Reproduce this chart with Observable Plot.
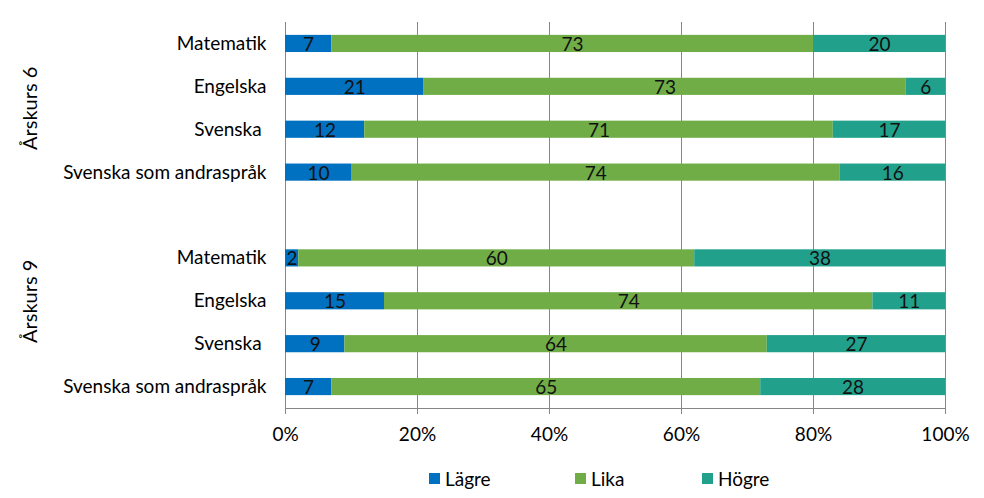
<!DOCTYPE html>
<html>
<head>
<meta charset="utf-8">
<script src="https://cdn.jsdelivr.net/npm/d3@7"></script>
<script src="https://cdn.jsdelivr.net/npm/@observablehq/plot@0.6"></script>
<style>
  html, body { margin: 0; padding: 0; background: #fff; }
  #chart { width: 984px; height: 498px; font-family: Lato, "Open Sans", sans-serif; }
  .legend { display: flex; align-items: center; padding-left: 429px; height: 32px; font-size: 19px; color: #000; }
  .legend .item { display: flex; align-items: center; }
  .legend .sw { width: 11px; height: 11px; margin-right: 5px; }
</style>
</head>
<body>
<div id="chart"></div>
<script>
const grades = ["Årskurs 6", "Årskurs 9"];
const categories = ["Matematik", "Engelska", "Svenska\u00a0", "Svenska som andraspråk"];
const seriesNames = ["Lägre", "Lika", "Högre"];
const seriesColors = ["#0070C0", "#70AD47", "#21A08B"];
const lagre6 = [7, 21, 12, 10];
const lika6  = [73, 73, 71, 74];
const hogre6 = [20, 6, 17, 16];
const lagre9 = [2, 15, 9, 7];
const lika9  = [60, 74, 64, 65];
const hogre9 = [38, 11, 27, 28];
const xTicks = [0, 20, 40, 60, 80, 100];

const gradeSeries = [[lagre6, lika6, hogre6], [lagre9, lika9, hogre9]];
const rowKey = (g, c) => g + "|" + c;
const domain = [];
grades.forEach((g, gi) => {
  categories.forEach(c => domain.push(rowKey(g, c)));
  if (gi < grades.length - 1) domain.push("gap");
});

const data = [];
grades.forEach((g, gi) => {
  categories.forEach((c, ci) => {
    seriesNames.forEach((s, si) => {
      data.push({row: rowKey(g, c), series: s, value: gradeSeries[gi][si][ci]});
    });
  });
});

const FONT = "Lato, 'Open Sans', sans-serif";
const plot = Plot.plot({
  width: 984,
  height: 462,
  marginTop: 22,
  marginBottom: 54,
  marginLeft: 285,
  marginRight: 39,
  style: {fontFamily: FONT, fontSize: "19px", color: "#000"},
  x: {domain: [0, 100], label: null},
  y: {domain, paddingInner: 0.6, paddingOuter: 0.3, round: false, label: null, tickSize: 0, tickPadding: 19, tickFormat: d => d === "gap" ? "" : d.split("|")[1]},
  color: {domain: seriesNames, range: seriesColors},
  marks: [
    Plot.gridX(xTicks, {stroke: "#868686", strokeOpacity: 1}),
    Plot.barX(data, Plot.stackX({x: "value", y: "row", z: "series", fill: "series", order: seriesNames})),
    Plot.text(data, Plot.stackX({x: "value", y: "row", z: "series", text: d => String(d.value), order: seriesNames, fill: "#111", fontSize: 19, dy: 1})),
    Plot.axisX({ticks: xTicks, tickFormat: d => d + "%", tickSize: 6, tickPadding: 13, stroke: "#868686", label: null, fontSize: 19}),
    Plot.ruleY([domain[domain.length - 1]], {dy: 21.45, stroke: "#868686"}),
    Plot.text([{row: rowKey(grades[0], categories[1]), label: grades[0]}], {y: "row", text: "label", frameAnchor: "left", textAnchor: "middle", dx: -255, dy: 21.45, rotate: -90, fontSize: 20}),
    Plot.text([{row: rowKey(grades[1], categories[1]), label: grades[1]}], {y: "row", text: "label", frameAnchor: "left", textAnchor: "middle", dx: -255, dy: 0, rotate: -90, fontSize: 20})
  ]
});
document.getElementById("chart").appendChild(plot);

const legend = document.createElement("div");
legend.className = "legend";
const widths = [146, 127, 120];
seriesNames.forEach((s, i) => {
  const item = document.createElement("div");
  item.className = "item";
  item.style.width = widths[i] + "px";
  const sw = document.createElement("span");
  sw.className = "sw";
  sw.style.background = seriesColors[i];
  const t = document.createElement("span");
  t.textContent = s;
  item.appendChild(sw);
  item.appendChild(t);
  legend.appendChild(item);
});
document.getElementById("chart").appendChild(legend);
</script>
</body>
</html>
